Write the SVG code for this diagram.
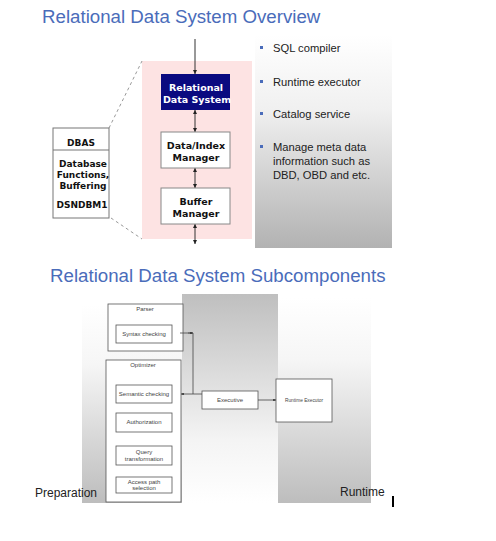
<svg xmlns="http://www.w3.org/2000/svg" width="496" height="541" viewBox="0 0 496 541">
<defs>
<linearGradient id="gDown" x1="0" y1="0" x2="0" y2="1"><stop offset="0" stop-color="#ffffff"/><stop offset="0.35" stop-color="#f0f0f0"/><stop offset="1" stop-color="#b2b2b2"/></linearGradient>
<linearGradient id="gLow" x1="0" y1="0" x2="0" y2="1"><stop offset="0" stop-color="#ffffff"/><stop offset="0.3" stop-color="#f6f6f6"/><stop offset="1" stop-color="#bdbdbd"/></linearGradient>
<linearGradient id="gUp" x1="0" y1="0" x2="0" y2="1"><stop offset="0" stop-color="#bfbfbf"/><stop offset="0.7" stop-color="#f4f4f4"/><stop offset="1" stop-color="#ffffff"/></linearGradient>
<marker id="ah" viewBox="0 0 6 6" refX="6" refY="3" markerWidth="4" markerHeight="4" orient="auto-start-reverse"><path d="M0,0 L6,3 L0,6 z" fill="#222"/></marker>
<marker id="as" viewBox="0 0 6 6" refX="6" refY="3" markerWidth="3.5" markerHeight="3.5" orient="auto-start-reverse"><path d="M0,0 L6,3 L0,6 z" fill="#333"/></marker>
</defs>
<style>
.title{font-family:"Liberation Sans",Arial,sans-serif;font-size:18.7px;fill:#4a6cba}
.bul{font-family:"Liberation Sans",Arial,sans-serif;font-size:11.2px;fill:#222}
.bx{font-family:"DejaVu Sans",Verdana,sans-serif;font-weight:bold;font-size:9.5px;fill:#111;text-anchor:middle}
.bxw{fill:#fff}
.db{font-family:"DejaVu Sans",Verdana,sans-serif;font-weight:bold;font-size:9px;fill:#111;text-anchor:middle}
.sm{font-family:"Liberation Sans",Arial,sans-serif;font-size:6px;fill:#444;text-anchor:middle}
.lab{font-family:"Liberation Sans",Arial,sans-serif;font-size:12px;fill:#222}
.wbox{fill:#fff;stroke:#888;stroke-width:1}
.lbox{fill:#fff;stroke:#555;stroke-width:0.8}
.conn{stroke:#333;stroke-width:1;fill:none}
.conn2{stroke:#444;stroke-width:0.8;fill:none}
</style>
<rect x="0" y="0" width="496" height="541" fill="#fff"/>
<text class="title" x="42" y="23">Relational Data System Overview</text>
<g id="right-panel">
<rect x="255" y="35" width="137" height="213" fill="url(#gDown)"/>
<rect x="260" y="46" width="3" height="3" fill="#4a6cba"/>
<text class="bul" x="273" y="52">SQL compiler</text>
<rect x="260" y="80" width="3" height="3" fill="#4a6cba"/>
<text class="bul" x="273" y="86">Runtime executor</text>
<rect x="260" y="112" width="3" height="3" fill="#4a6cba"/>
<text class="bul" x="273" y="118">Catalog service</text>
<rect x="260" y="145" width="3" height="3" fill="#4a6cba"/>
<text class="bul" x="273" y="151">Manage meta data</text>
<text class="bul" x="273" y="165">information such as</text>
<text class="bul" x="273" y="179">DBD, OBD and etc.</text>
</g>
<g id="pink-area"><rect x="142" y="61" width="110" height="178" fill="#fde3e3"/></g>
<g id="connectors-top">
<line class="conn" x1="195" y1="39" x2="195" y2="74" marker-end="url(#ah)"/>
<line class="conn" x1="195" y1="110" x2="195" y2="132" marker-start="url(#ah)" marker-end="url(#ah)"/>
<line class="conn" x1="195" y1="168" x2="195" y2="188" marker-start="url(#ah)" marker-end="url(#ah)"/>
<line class="conn" x1="195" y1="224" x2="195" y2="244" marker-start="url(#ah)" marker-end="url(#ah)"/>
<line x1="109" y1="128" x2="142" y2="61" stroke="#999" stroke-width="1" stroke-dasharray="3,3"/>
<line x1="111" y1="218" x2="142" y2="239" stroke="#999" stroke-width="1" stroke-dasharray="3,3"/>
</g>
<g id="rds"><rect x="161" y="74" width="69" height="36" fill="#0a0a80"/>
<text class="bx bxw" x="196" y="91">Relational</text><text class="bx bxw" x="197" y="103">Data System</text></g>
<g id="dim"><rect class="wbox" x="161" y="132" width="69" height="36"/>
<text class="bx" x="196" y="149">Data/Index</text><text class="bx" x="196" y="161">Manager</text></g>
<g id="bm"><rect class="wbox" x="161" y="188" width="69" height="36"/>
<text class="bx" x="196" y="205">Buffer</text><text class="bx" x="196" y="217">Manager</text></g>
<g id="dbas"><rect x="53" y="128" width="56" height="90" fill="#fff" stroke="#777" stroke-width="1"/>
<line x1="53" y1="150" x2="109" y2="150" stroke="#777" stroke-width="1"/>
<text class="db" x="81" y="146">DBAS</text>
<text class="db" x="83" y="167">Database</text>
<text class="db" x="83" y="178">Functions,</text>
<text class="db" x="83" y="189">Buffering</text>
<text class="db" x="82" y="208">DSNDBM1</text></g>
<text class="title" x="50" y="282">Relational Data System Subcomponents</text>
<g id="lower-bg">
<rect x="82" y="305" width="101" height="198" fill="url(#gLow)"/>
<rect x="182" y="294" width="96" height="209" fill="url(#gUp)"/>
<rect x="278" y="298" width="93" height="205" fill="url(#gLow)"/>
</g>
<g id="parser"><rect class="lbox" x="108" y="304" width="75" height="47"/>
<text class="sm" x="145" y="311">Parser</text></g>
<g id="syntax"><rect class="lbox" x="116" y="325" width="56" height="18"/>
<text class="sm" x="144" y="336">Syntax checking</text></g>
<g id="optimizer"><rect class="lbox" x="106" y="360" width="75" height="142"/>
<text class="sm" x="143" y="367">Optimizer</text></g>
<g id="semantic"><rect class="lbox" x="116" y="385" width="56" height="18"/>
<text class="sm" x="144" y="396">Semantic checking</text></g>
<g id="auth"><rect class="lbox" x="116" y="413" width="56" height="19"/>
<text class="sm" x="144" y="424">Authorization</text></g>
<g id="qt"><rect class="lbox" x="116" y="446" width="56" height="19"/>
<text class="sm" x="144" y="454">Query</text><text class="sm" x="144" y="461">transformation</text></g>
<g id="aps"><rect class="lbox" x="116" y="477" width="56" height="16"/>
<text class="sm" x="144" y="484">Access path</text><text class="sm" x="144" y="490">selection</text></g>
<g id="executive"><rect class="lbox" x="202" y="391" width="56" height="18"/>
<text class="sm" x="230" y="402">Executive</text></g>
<g id="runtime-exec"><rect class="lbox" x="276" y="379" width="56" height="43"/>
<text class="sm" x="304" y="402" style="font-size:4.8px">Runtime Executor</text></g>
<g id="connectors-low">
<polyline class="conn2" points="180,333 193,333"/>
<line class="conn2" x1="188" y1="333" x2="193" y2="333" marker-end="url(#as)"/>
<polyline class="conn2" points="193,333 193,394 202,394"/>
<line class="conn2" x1="193" y1="394" x2="181" y2="394" marker-end="url(#as)"/>
<line class="conn2" x1="258" y1="400" x2="276" y2="400" marker-end="url(#as)"/>
</g>
<text class="lab" x="35" y="497">Preparation</text>
<text class="lab" x="340" y="496">Runtime</text>
<rect x="392" y="496" width="2" height="11" fill="#000"/>
</svg>
